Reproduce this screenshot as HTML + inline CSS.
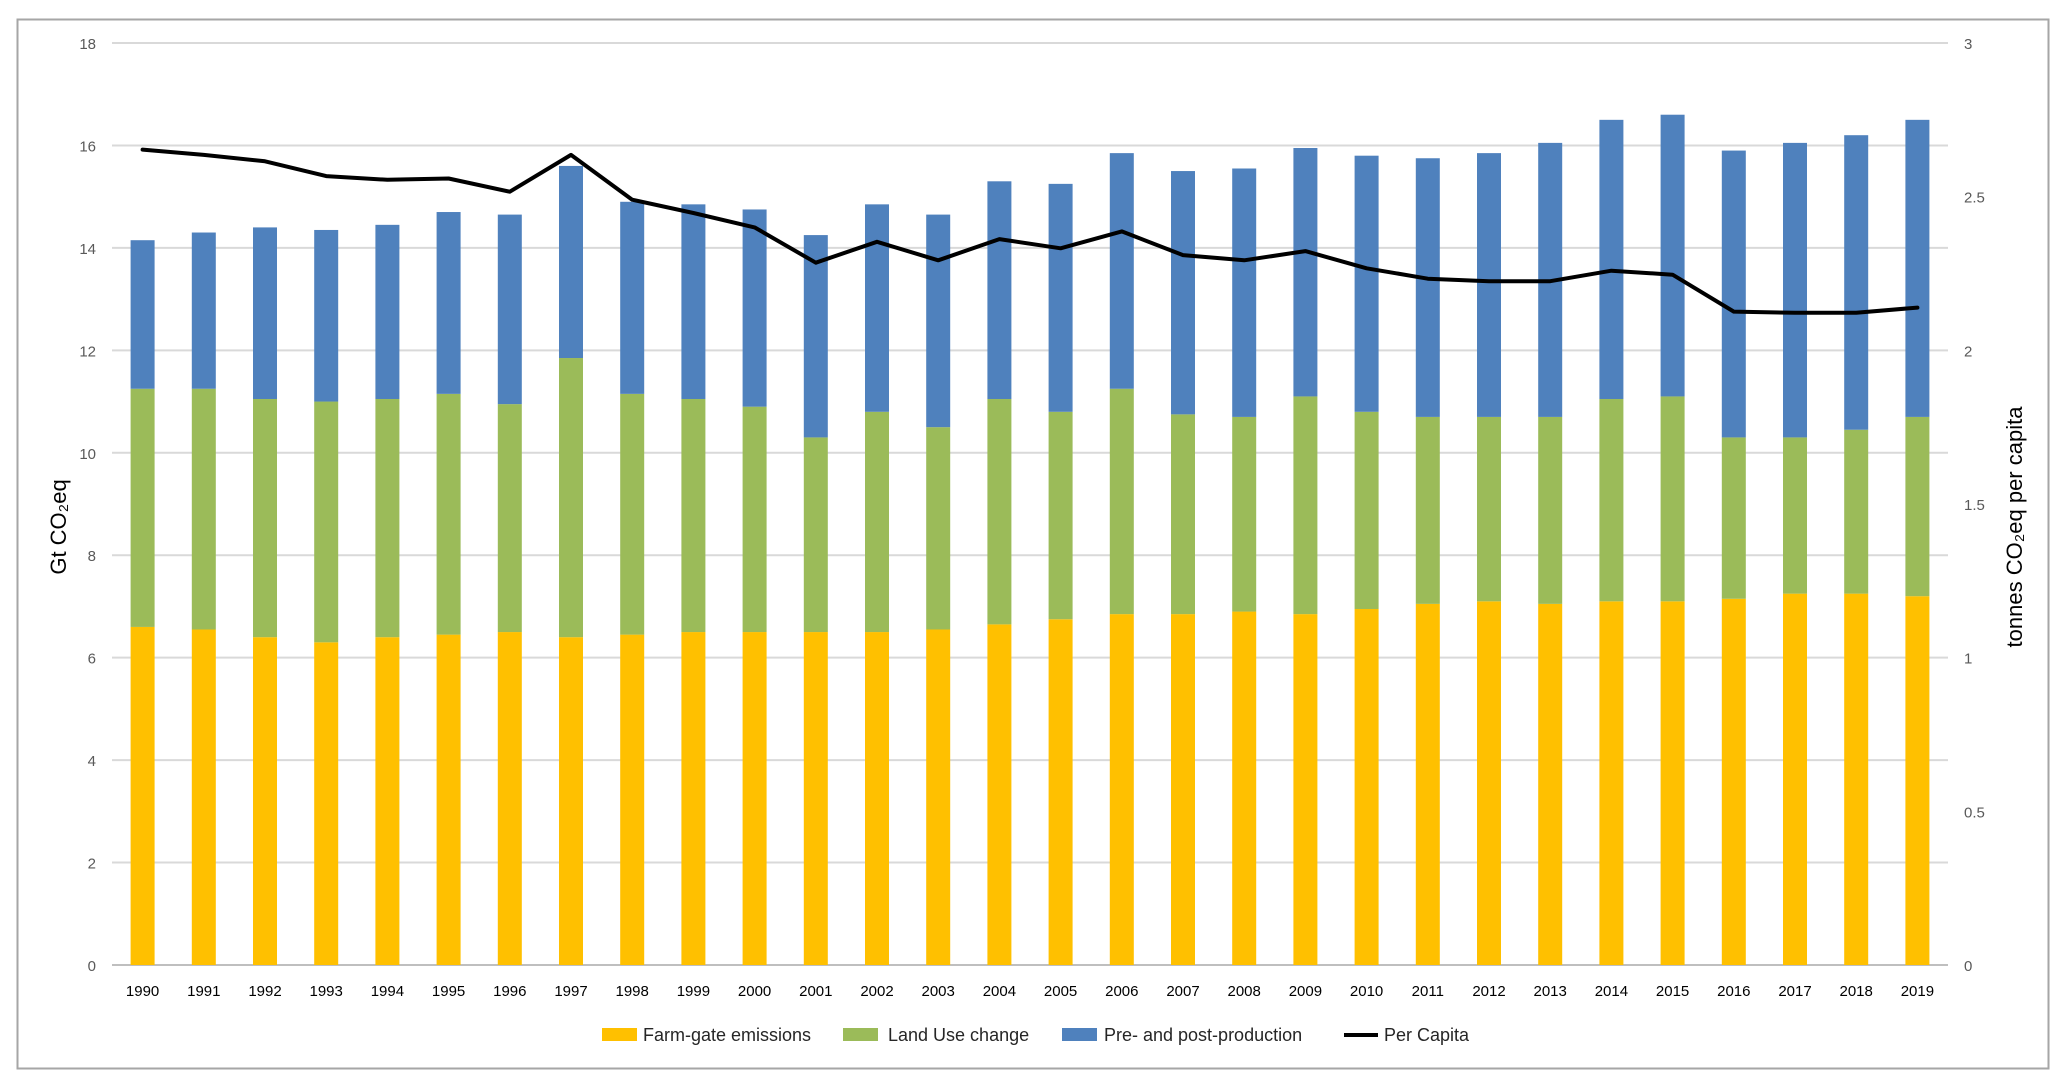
<!DOCTYPE html>
<html><head><meta charset="utf-8"><style>
html,body{margin:0;padding:0;background:#fff;}
svg{display:block;font-family:"Liberation Sans",sans-serif;}
</style></head><body>
<svg id="chart" width="2067" height="1088" viewBox="0 0 2067 1088" xmlns="http://www.w3.org/2000/svg">
<rect x="17.5" y="19.5" width="2031" height="1049" fill="#fff" stroke="#a6a6a6" stroke-width="2"/>
<g id="grid"></g><g id="bars"></g><g id="line"></g><g id="axes"></g>
<text transform="translate(66,527) rotate(-90)" text-anchor="middle" font-size="22" fill="#000">Gt CO₂eq</text>
<text transform="translate(2022,527) rotate(-90)" text-anchor="middle" font-size="22" fill="#000">tonnes CO₂eq per capita</text>
<g font-size="18" fill="#262626">
<rect x="602" y="1028" width="35" height="13" fill="#FFC000"/>
<text x="643" y="1041">Farm-gate emissions</text>
<rect x="843" y="1028" width="35" height="13" fill="#9BBB59"/>
<text x="888" y="1041">Land Use change</text>
<rect x="1062" y="1028" width="35" height="13" fill="#4F81BD"/>
<text x="1104" y="1041">Pre- and post-production</text>
<line x1="1344" y1="1035" x2="1378" y2="1035" stroke="#000" stroke-width="4"/>
<text x="1384" y="1041">Per Capita</text>
</g>
</svg>
<script>
const years=[1990,1991,1992,1993,1994,1995,1996,1997,1998,1999,2000,2001,2002,2003,2004,2005,2006,2007,2008,2009,2010,2011,2012,2013,2014,2015,2016,2017,2018,2019];
const farmGate=[6.6,6.55,6.4,6.3,6.4,6.45,6.5,6.4,6.45,6.5,6.5,6.5,6.5,6.55,6.65,6.75,6.85,6.85,6.9,6.85,6.95,7.05,7.1,7.05,7.1,7.1,7.15,7.25,7.25,7.2];
const landUse=[4.65,4.7,4.65,4.7,4.65,4.7,4.45,5.45,4.7,4.55,4.4,3.8,4.3,3.95,4.4,4.05,4.4,3.9,3.8,4.25,3.85,3.65,3.6,3.65,3.95,4.0,3.15,3.05,3.2,3.5];
const prePost=[2.9,3.05,3.35,3.35,3.4,3.55,3.7,3.75,3.75,3.8,3.85,3.95,4.05,4.15,4.25,4.45,4.6,4.75,4.85,4.85,5.0,5.05,5.15,5.35,5.45,5.5,5.6,5.75,5.75,5.8];
const perCapita=[2.653,2.636,2.615,2.567,2.555,2.559,2.516,2.636,2.49,2.447,2.4,2.285,2.353,2.293,2.362,2.332,2.387,2.31,2.293,2.323,2.267,2.233,2.225,2.225,2.259,2.246,2.126,2.122,2.122,2.139];
const leftTicks=[0,2,4,6,8,10,12,14,16,18];
const rightTicks=["0","0.5","1","1.5","2","2.5","3"];

const NS="http://www.w3.org/2000/svg";
const X0=112,X1=1948,Y0=965,Y1=43;
const step=(X1-X0)/years.length;
const xc=i=>X0+step*(i+0.5);
const yL=v=>Y0-(v/18)*(Y0-Y1);
const yR=v=>Y0-(v/3)*(Y0-Y1);
function mk(tag,attrs,parent,text){const e=document.createElementNS(NS,tag);for(const k in attrs)e.setAttribute(k,attrs[k]);if(text!==undefined)e.textContent=text;parent.appendChild(e);return e;}
const grid=document.getElementById('grid'),axes=document.getElementById('axes'),bars=document.getElementById('bars'),lineG=document.getElementById('line');
leftTicks.forEach(t=>{
  const l=mk('line',{x1:X0,x2:X1,y1:yL(t),y2:yL(t),stroke:t===0?'#bfbfbf':'#d9d9d9','stroke-width':2},grid);
  
  
  const tx=mk('text',{x:96,y:yL(t)+6,'text-anchor':'end','font-size':15,fill:'#595959'},axes,String(t));
  
  
});
rightTicks.forEach(t=>{
  const tx=mk('text',{x:1964,y:yR(parseFloat(t))+6,'text-anchor':'start','font-size':15,fill:'#595959'},axes,t);
  
  
});
const bw=24;
years.forEach((yr,i)=>{
  const x=xc(i)-bw/2;
  const a=farmGate[i],b=landUse[i],c=prePost[i];
  const r1=mk('rect',{x:x,width:bw,y:yL(a),height:yL(0)-yL(a),fill:'#FFC000'},bars);
  
  
  const r2=mk('rect',{x:x,width:bw,y:yL(a+b),height:yL(a)-yL(a+b),fill:'#9BBB59'},bars);
  
  
  const r3=mk('rect',{x:x,width:bw,y:yL(a+b+c),height:yL(a+b)-yL(a+b+c),fill:'#4F81BD'},bars);
  
  
  const tx=mk('text',{x:xc(i),y:996,'text-anchor':'middle','font-size':15,fill:'#000'},axes,String(yr));
  
  
});
const pts=perCapita.map((v,i)=>xc(i).toFixed(1)+','+yR(v).toFixed(1)).join(' ');
const pl=mk('polyline',{points:pts,fill:'none',stroke:'#000','stroke-width':4,'stroke-linejoin':'round','stroke-linecap':'round'},lineG);


</script>
</body></html>
